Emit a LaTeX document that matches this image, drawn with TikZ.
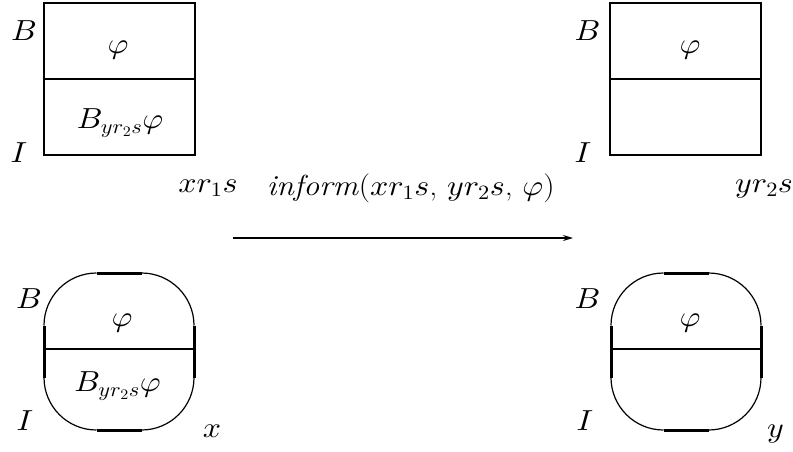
\documentclass[tikz,border=0pt]{standalone}
\DeclareFontShape{OML}{cmm}{m}{it}{<->cmmi10}{}
\DeclareFontShape{OT1}{cmr}{m}{n}{<->cmr10}{}
\DeclareFontShape{OMS}{cmsy}{m}{n}{<->cmsy10}{}
\usetikzlibrary{arrows.meta}
\tikzset{
  statebox/.style={draw, line width=2.8pt, inner sep=0pt, minimum width=151pt, minimum height=152pt},
  divider/.style={line width=2pt},
  thincurve/.style={line width=1.2pt},
  thickside/.style={line width=3pt},
  lbl/.style={inner sep=0pt, xscale=1.1, font=\fontsize{29}{35}\selectfont},
  conn/.style={line width=1.4pt, -{Stealth[length=10pt,width=6pt]}},
  agentshape/.pic={
    \draw[thincurve] (-75,-26) .. controls (-75,-55) and (-51.5,-78.5) .. (-22.5,-78.5);
    \draw[thickside] (-22.5,-78.5) -- (22.5,-78.5);
    \draw[thincurve] (22.5,-78.5) .. controls (51.5,-78.5) and (75,-55) .. (75,-26);
    \draw[thickside] (75,-26) -- (75,26);
    \draw[thincurve] (75,26) .. controls (75,55) and (51.5,78.5) .. (22.5,78.5);
    \draw[thickside] (22.5,78.5) -- (-22.5,78.5);
    \draw[thincurve] (-22.5,78.5) .. controls (-51.5,78.5) and (-75,55) .. (-75,26);
    \draw[thickside] (-75,26) -- (-75,-26);
    \draw[divider] (-75,-2.5) -- (75,-2.5);
  }
}
\begin{document}
\begin{tikzpicture}[x=1pt,y=-1pt]
\path[use as bounding box] (0,0) rectangle (793,451);
% top-left box
\node[statebox] (boxA) at (119.5,79) {};
\draw[divider] (boxA.west) -- (boxA.east);
\node[lbl] (phiA) at (118,50) {$\varphi$};
\node[lbl] (belA) at (120,123) {$B_{yr_2s}\varphi$};
\node[lbl] (BA) at (24,31) {$B$};
\node[lbl] (IA) at (19,153) {$I$};
\node[lbl, anchor=base] (nameA) at (208,192) {$xr_1s$};
% top-right box
\node[statebox] (boxB) at (685.5,79) {};
\draw[divider] (boxB.west) -- (boxB.east);
\node[lbl] (phiB) at (690,50) {$\varphi$};
\node[lbl] (BB) at (587.5,31) {$B$};
\node[lbl] (IB) at (583,153) {$I$};
\node[lbl, anchor=base] (nameB) at (764,192) {$yr_2s$};
% arrow
\coordinate (arrS) at (233,238);
\coordinate (arrE) at (573,238);
\draw[conn] (arrS) -- (arrE) node[midway, lbl, yshift=50pt, xshift=7pt] (act) {\textit{inform}($xr_1s$, $yr_2s$, $\varphi$)};
% bottom-left agent
\pic at (119,351.5) {agentshape};
\node[lbl] (phiC) at (122,323) {$\varphi$};
\node[lbl] (belC) at (117.5,386) {$B_{yr_2s}\varphi$};
\node[lbl] (BC) at (29,299) {$B$};
\node[lbl] (IC) at (25,421) {$I$};
\node[lbl, anchor=base] (nameC) at (212,437) {$x$};
% bottom-right agent
\pic at (686,351.5) {agentshape};
\node[lbl] (phiD) at (690,323) {$\varphi$};
\node[lbl] (BD) at (587.5,299) {$B$};
\node[lbl] (ID) at (585,421) {$I$};
\node[lbl, anchor=base] (nameD) at (775.5,437) {$y$};
\end{tikzpicture}
\end{document}
